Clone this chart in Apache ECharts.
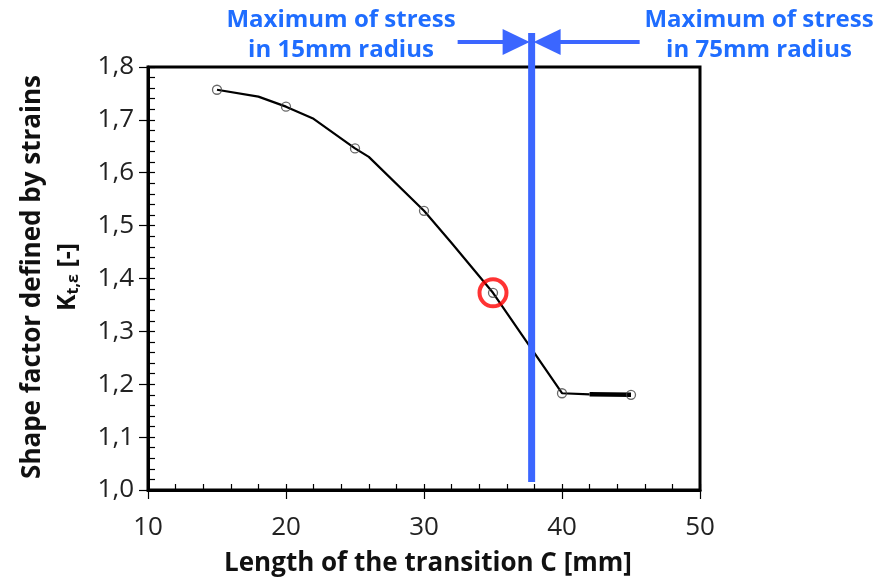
<!DOCTYPE html>
<html>
<head>
<meta charset="utf-8">
<script src="https://cdn.jsdelivr.net/npm/echarts@6/dist/echarts.min.js"></script>
<style>
  html, body { margin: 0; padding: 0; background: #fff; }
  #chart { width: 888px; height: 577px; }
</style>
</head>
<body>
<div id="chart"></div>
<script>
// Shape factor K_t,ε versus length of the transition C
const curveX = [15, 18, 20, 22, 25, 26, 30, 32, 35, 40, 42];
const curveY = [1.757, 1.744, 1.725, 1.702, 1.646, 1.630, 1.528, 1.467, 1.373, 1.183, 1.181];
// plateau segment drawn heavier
const plateauX = [42, 45];
const plateauY = [1.181, 1.180];
// measured points
const pointX = [15, 20, 25, 30, 35, 40, 45];
const pointY = [1.757, 1.725, 1.646, 1.528, 1.373, 1.183, 1.180];
// highlighted point
const highlightX = [35];
const highlightY = [1.373];
// position of the stress maximum switch
const switchX = 37.8;
const switchBottomY = 1.015;

const xTicks = [10, 20, 30, 40, 50];
const yTicks = ['1,0', '1,1', '1,2', '1,3', '1,4', '1,5', '1,6', '1,7', '1,8'];

const leftNote = ['Maximum of stress', 'in 15mm radius'];
const rightNote = ['Maximum of stress', 'in 75mm radius'];
const xTitle = 'Length of the transition C [mm]';
const yTitle = 'Shape factor defined by strains';

const BLUE = '#3b66ff';
const TEXT_BLUE = '#1f6dff';
const LABEL_FONT = '"Open Sans", sans-serif';
const BOLD_FONT = '"Open Sans", sans-serif';

const zip = (a, b) => a.map((v, i) => [v, b[i]]);

const chart = echarts.init(document.getElementById('chart'), null, { renderer: 'canvas' });

const axisCommonX = {
  type: 'value', min: 10, max: 50, interval: 10,
  splitLine: { show: false }
};
const axisCommonY = {
  type: 'value', min: 1.0, max: 1.8, interval: 0.1,
  splitLine: { show: false }
};

chart.setOption({
  animation: false,
  backgroundColor: '#fff',
  grid: {
    left: 148, right: 188, top: 67, bottom: 87,
    show: true, borderColor: '#000', borderWidth: 3, backgroundColor: 'transparent'
  },
  xAxis: [
    Object.assign({}, axisCommonX, {
      axisLine: { show: true, lineStyle: { color: '#000', width: 3 } },
      axisTick: { show: true, inside: false, length: 9, lineStyle: { color: '#000', width: 1.2 } },
      minorTick: { show: false },
      axisLabel: {
        margin: 25, color: '#222', fontFamily: LABEL_FONT, fontSize: 26,
        formatter: (v) => String(xTicks[xTicks.indexOf(v)])
      }
    }),
    Object.assign({}, axisCommonX, {
      position: 'bottom',
      axisLine: { show: false },
      axisTick: { show: true, inside: true, length: 6, lineStyle: { color: '#000', width: 1.2 } },
      minorTick: { show: true, splitNumber: 5, length: 6, lineStyle: { color: '#000', width: 1.2 } },
      axisLabel: { show: false }
    })
  ],
  yAxis: [
    Object.assign({}, axisCommonY, {
      axisLine: { show: true, lineStyle: { color: '#000', width: 3 } },
      axisTick: { show: true, inside: false, length: 9, lineStyle: { color: '#000', width: 1.2 } },
      minorTick: { show: false },
      axisLabel: {
        margin: 14, color: '#222', fontFamily: LABEL_FONT, fontSize: 26,
        formatter: (v) => yTicks[Math.round((v - 1.0) * 10)]
      }
    }),
    Object.assign({}, axisCommonY, {
      position: 'left',
      axisLine: { show: false },
      axisTick: { show: true, inside: true, length: 7, lineStyle: { color: '#000', width: 1.2 } },
      minorTick: { show: true, splitNumber: 5, length: 7, lineStyle: { color: '#000', width: 1.2 } },
      axisLabel: { show: false }
    })
  ],
  series: [
    {
      type: 'line', data: zip(curveX, curveY), symbol: 'none',
      lineStyle: { color: '#000', width: 2.2 }, z: 3
    },
    {
      type: 'line', data: zip(plateauX, plateauY), symbol: 'none',
      lineStyle: { color: '#000', width: 4.5 }, z: 3
    },
    {
      type: 'scatter', data: zip(pointX, pointY), symbol: 'circle', symbolSize: 9,
      itemStyle: { color: 'rgba(255,255,255,0)', borderColor: '#444', borderWidth: 1.3 }, z: 4
    },
    {
      type: 'scatter', data: zip(highlightX, highlightY), symbol: 'circle', symbolSize: 27,
      itemStyle: { color: 'rgba(255,255,255,0)', borderColor: '#ff0000', borderWidth: 4 }, z: 5
    }
  ]
});

// Annotations placed from the axis scales
const sx = chart.convertToPixel({ xAxisIndex: 0 }, switchX);
const sBottom = chart.convertToPixel({ yAxisIndex: 0 }, switchBottomY);
const topY = 33;
const arrowY = 42;

function noteText(lines, cx) {
  return lines.map((t, i) => ({
    type: 'text', z: 20,
    style: {
      text: t, x: cx, y: 20 + i * 30, align: 'center', verticalAlign: 'middle',
      fill: TEXT_BLUE, font: 'bold 24px ' + BOLD_FONT
    }
  }));
}

chart.setOption({
  graphic: [
    // vertical switch line
    { type: 'rect', z: 15, shape: { x: sx - 3.5, y: topY, width: 7, height: sBottom - topY }, style: { fill: BLUE } },
    // left arrow
    { type: 'line', z: 15, shape: { x1: sx - 74, y1: arrowY, x2: sx - 28, y2: arrowY }, style: { stroke: BLUE, lineWidth: 4 } },
    { type: 'polygon', z: 15, shape: { points: [[sx - 29, arrowY - 13], [sx - 2, arrowY], [sx - 29, arrowY + 13]] }, style: { fill: BLUE } },
    // right arrow
    { type: 'line', z: 15, shape: { x1: sx + 28, y1: arrowY, x2: sx + 108, y2: arrowY }, style: { stroke: BLUE, lineWidth: 4 } },
    { type: 'polygon', z: 15, shape: { points: [[sx + 29, arrowY - 13], [sx + 2, arrowY], [sx + 29, arrowY + 13]] }, style: { fill: BLUE } },
    ...noteText(leftNote, 341),
    ...noteText(rightNote, 759),
    // axis titles
    {
      type: 'text', z: 20,
      style: { text: xTitle, x: 428, y: 564, align: 'center', verticalAlign: 'middle', fill: '#111', font: 'bold 26px ' + BOLD_FONT }
    },
    {
      type: 'text', z: 20, x: 33, y: 277, rotation: Math.PI / 2,
      style: { text: yTitle, x: 0, y: 0, align: 'center', verticalAlign: 'middle', fill: '#111', font: 'bold 26px ' + BOLD_FONT }
    },
    {
      type: 'text', z: 20, x: 68, y: 277, rotation: Math.PI / 2,
      style: {
        text: '{k|K}{s|t,ε}{k| [-]}', x: 0, y: 0, align: 'center', verticalAlign: 'middle',
        rich: {
          k: { fontFamily: BOLD_FONT, fontWeight: 'bold', fontSize: 25, fill: '#111', verticalAlign: 'middle' },
          s: { fontFamily: BOLD_FONT, fontWeight: 'bold', fontSize: 16, fill: '#111', verticalAlign: 'bottom', padding: [10, 0, 0, 0] }
        }
      }
    }
  ]
});
</script>
</body>
</html>
